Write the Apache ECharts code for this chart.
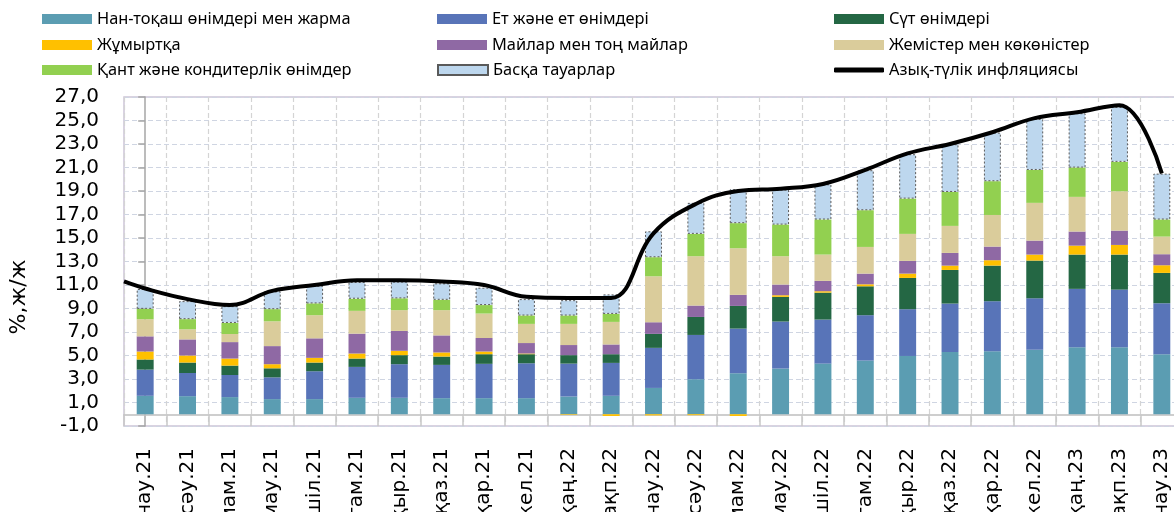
<!DOCTYPE html>
<html>
<head>
<meta charset="utf-8">
<script src="https://cdn.jsdelivr.net/npm/echarts@6/dist/echarts.min.js"></script>
<style>
html,body{margin:0;padding:0;background:#fff;}
#chart{width:1174px;height:512px;}
</style>
</head>
<body>
<div id="chart"></div>
<script>
const categories = ['нау.21','сәу.21','мам.21','мау.21','шіл.21','там.21','қыр.21','қаз.21','қар.21','жел.21','қаң.22','ақп.22','нау.22','сәу.22','мам.22','мау.22','шіл.22','там.22','қыр.22','қаз.22','қар.22','жел.22','қаң.23','ақп.23','нау.23'];

const bread    = [1.57,1.54,1.46,1.29,1.29,1.40,1.40,1.37,1.37,1.37,1.51,1.57,2.24,2.98,3.49,3.89,4.31,4.57,4.96,5.30,5.36,5.50,5.70,5.70,5.11];
const meat     = [2.23,1.97,1.88,1.85,2.37,2.63,2.86,2.83,2.92,2.97,2.80,2.80,3.41,3.77,3.80,4.00,3.75,3.86,3.98,4.12,4.26,4.37,4.97,4.91,4.34];
const dairy    = [0.86,0.89,0.80,0.77,0.74,0.71,0.77,0.71,0.82,0.77,0.72,0.74,1.19,1.53,1.93,2.10,2.29,2.46,2.66,2.86,3.03,3.21,2.92,2.98,2.58];
const eggs     = [0.68,0.60,0.60,0.35,0.40,0.43,0.37,0.35,0.23,0.06,-0.05,-0.15,-0.10,-0.08,-0.15,0.14,0.12,0.17,0.37,0.37,0.46,0.51,0.76,0.82,0.65];
const oils     = [1.29,1.37,1.40,1.54,1.66,1.69,1.69,1.45,1.15,0.89,0.86,0.83,0.99,0.97,0.94,0.91,0.88,0.91,1.08,1.08,1.16,1.19,1.20,1.22,0.94];
const fruitVeg = [1.46,0.86,0.69,2.11,1.97,1.94,1.77,2.15,2.08,1.63,1.80,1.92,3.91,4.20,3.97,2.41,2.24,2.27,2.30,2.30,2.69,3.21,2.95,3.35,1.50];
const sugar    = [0.88,0.86,0.94,1.03,1.00,1.03,1.00,0.88,0.72,0.71,0.71,0.68,1.62,1.90,2.13,2.69,2.98,3.12,3.00,2.89,2.87,2.80,2.49,2.50,1.45];
const other    = [1.69,1.54,1.43,1.52,1.51,1.43,1.43,1.40,1.48,1.40,1.31,1.66,2.21,2.64,2.89,2.98,3.00,3.41,3.78,4.06,4.14,4.34,4.63,4.68,3.91];
const inflation = [10.7,9.8,9.3,10.5,11.0,11.4,11.4,11.3,11.0,10.0,9.9,9.9,15.4,17.9,19.0,19.2,19.6,20.8,22.2,23.0,24.0,25.2,25.7,26.3,20.5];
const inflationLead = 11.3; // line value at the left edge of the plot

const seriesNames = ['Нан-тоқаш өнімдері мен жарма','Ет және ет өнімдері','Сүт өнімдері','Жұмыртқа','Майлар мен тоң майлар','Жемістер мен көкөністер','Қант және кондитерлік өнімдер','Басқа тауарлар'];
const lineName = 'Азық-түлік инфляциясы';
const yTicksMin = -1, yTicksMax = 27, yTickStep = 2;
const yAxisName = '%,ж/ж';

const barData = [bread, meat, dairy, eggs, oils, fruitVeg, sugar, other];
const colors = ['#5b9db2','#5874b8','#246744','#ffc000','#8f69a4','#dacc9b','#92d050','#bdd7ee'];

const chart = echarts.init(document.getElementById('chart'), null, {renderer:'canvas'});

const series = barData.map((d, i) => ({
  name: seriesNames[i],
  type: 'bar',
  stack: 'total',
  barWidth: '40%',
  data: d,
  itemStyle: i === 7
    ? {color: colors[i], borderColor: '#5a5a5a', borderWidth: 1, borderType: [2,2]}
    : {color: colors[i]},
  emphasis: {disabled: true}
}));
series.push({
  name: lineName,
  type: 'line',
  xAxisIndex: 1,
  data: [[-0.5, inflationLead]].concat(inflation.map((v, i) => [i, v])),
  smooth: 0.4,
  symbol: 'none',
  lineStyle: {color: '#000', width: 4},
  itemStyle: {color: '#000'},
  z: 10
});

const colX = [42, 437, 834];
const rowY = [20, 46, 71];
const allNames = seriesNames.concat([lineName]);
const legends = allNames.map((n, k) => ({
  data: [n],
  left: colX[k % 3],
  top: rowY[Math.floor(k / 3)] - 9,
  orient: 'horizontal',
  padding: 0,
  itemWidth: 50,
  itemHeight: k === 8 ? 5 : 10,
  itemGap: 5,
  icon: k === 8 ? 'roundRect' : 'rect',
  textStyle: {fontFamily: 'Noto Sans', fontSize: 16.4, color: '#000'},
  selectedMode: false
}));

chart.setOption({
  animation: false,
  backgroundColor: '#fff',
  legend: legends,
  grid: {left: 124, right: -9, top: 97, bottom: 86, containLabel: false, outerBoundsMode: 'none',
    show: true, borderColor: '#cdc5d8', borderWidth: 1.5, backgroundColor: 'transparent'},
  xAxis: [{
    type: 'category',
    data: categories,
    boundaryGap: true,
    axisLine: {onZero: true, lineStyle: {color: '#bfbfbf', width: 1.5}},
    axisTick: {show: true, length: 12, lineStyle: {color: '#c8c8c8', width: 1.5}},
    axisLabel: {interval: 0, rotate: 90, margin: 22, fontFamily: 'DejaVu Sans', fontSize: 20, color: '#000'},
    splitLine: {show: true, lineStyle: {color: '#d4d4d4', type: [5,3], width: 1.2}}
  }, {
    type: 'value',
    min: -0.5,
    max: categories.length - 0.5,
    show: false
  }],
  yAxis: {
    type: 'value',
    min: yTicksMin,
    max: yTicksMax,
    interval: yTickStep,
    axisLine: {show: true, lineStyle: {color: '#a6a6a6', width: 1.5}},
    axisTick: {show: true, length: 7, lineStyle: {color: '#a6a6a6', width: 1.5}},
    axisLabel: {margin: 25, fontFamily: 'DejaVu Sans', fontSize: 20, color: '#000',
      formatter: v => v.toFixed(1).replace('.', ',')},
    splitLine: {show: true, lineStyle: {color: '#cfd5e2', type: [5,3], width: 1.2}}
  },
  graphic: [{
    type: 'text',
    x: 19, y: 297,
    rotation: Math.PI / 2,
    style: {text: yAxisName, font: '22px "DejaVu Sans"', fill: '#000', textAlign: 'center', textVerticalAlign: 'middle'}
  }],
  series: series
});
</script>
</body>
</html>
